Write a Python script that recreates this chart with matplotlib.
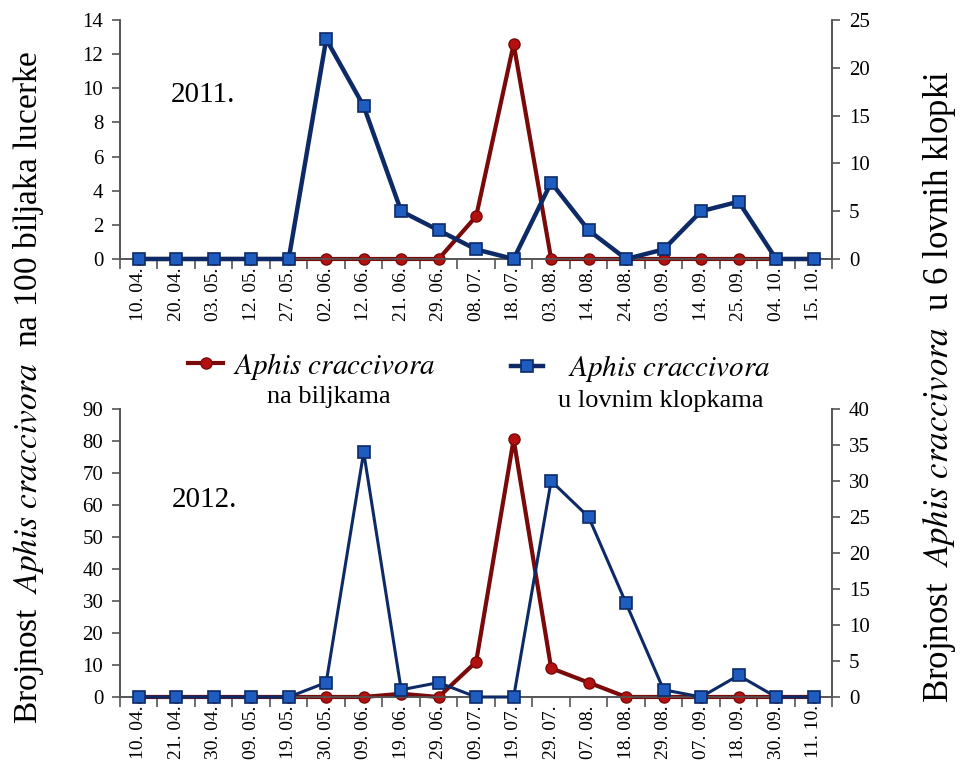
import matplotlib
matplotlib.use("Agg")
import matplotlib.pyplot as plt
from matplotlib.ticker import MultipleLocator, FixedLocator, NullFormatter

plt.rcParams['font.family'] = ['Liberation Serif', 'DejaVu Serif']
plt.rcParams['mathtext.fontset'] = 'stix'

# 2011 sampling dates and counts
dates_2011 = ['10. 04.', '20. 04.', '03. 05.', '12. 05.', '27. 05.', '02. 06.', '12. 06.',
              '21. 06.', '29. 06.', '08. 07.', '18. 07.', '03. 08.', '14. 08.', '24. 08.',
              '03. 09.', '14. 09.', '25. 09.', '04. 10.', '15. 10.']
plants_2011 = [0, 0, 0, 0, 0, 0, 0, 0, 0, 2.5, 12.6, 0, 0, 0, 0, 0, 0, 0, 0]
traps_2011 = [0, 0, 0, 0, 0, 23, 16, 5, 3, 1, 0, 8, 3, 0, 1, 5, 6, 0, 0]

# 2012 sampling dates and counts
dates_2012 = ['10. 04.', '21. 04.', '30. 04.', '09. 05.', '19. 05.', '30. 05.', '09. 06.',
              '19. 06.', '29. 06.', '09. 07.', '19. 07.', '29. 07.', '07. 08.', '18. 08.',
              '29. 08.', '07. 09.', '18. 09.', '30. 09.', '11. 10.']
plants_2012 = [0, 0, 0, 0, 0, 0, 0, 1, 0, 11, 80.5, 9, 4.5, 0, 0, 0, 0, 0, 0]
traps_2012 = [0, 0, 0, 0, 0, 2, 34, 1, 2, 0, 0, 30, 25, 13, 1, 0, 3, 0, 0]

RED_LINE = '#7a0a0a'
RED_MARK = '#b31010'
BLUE_LINE = '#0d2a66'
BLUE_MARK = '#1f5cc0'
AX_COL = '#555555'

fig = plt.figure(figsize=(9.6, 7.74), dpi=100)


def panel(rect, dates, plants, traps, lmax, lstep, rmax, rstep, year, year_xy, blue_lw):
    ax = fig.add_axes(rect)
    ax2 = ax.twinx()
    x = list(range(len(dates)))
    l1, = ax.plot(x, plants, color=RED_LINE, lw=3, marker='o', ms=8,
                  mfc=RED_MARK, mec=RED_LINE, mew=1, clip_on=False, zorder=3)
    l2, = ax2.plot(x, traps, color=BLUE_LINE, lw=blue_lw, marker='s', ms=9,
                   mfc=BLUE_MARK, mec=BLUE_LINE, mew=1.2, clip_on=False, zorder=3)
    ax.set_xlim(-0.5, len(dates) - 0.5)
    ax.set_ylim(0, lmax)
    ax2.set_ylim(0, rmax)
    ax.yaxis.set_major_locator(MultipleLocator(lstep))
    ax2.yaxis.set_major_locator(MultipleLocator(rstep))
    # ticks between categories, labels at categories
    ax.xaxis.set_major_locator(FixedLocator([i - 0.5 for i in range(len(dates) + 1)]))
    ax.xaxis.set_major_formatter(NullFormatter())
    ax.xaxis.set_minor_locator(FixedLocator(x))
    ax.set_xticklabels(dates, minor=True, rotation=90, fontsize=14)
    ax.tick_params(axis='x', which='minor', length=0, pad=6)
    ax.tick_params(axis='x', which='major', length=7, color=AX_COL, width=1.2)
    ax.tick_params(axis='y', length=6, color=AX_COL, width=1.2, labelsize=15, pad=6)
    ax2.tick_params(axis='y', length=6, color=AX_COL, width=1.2, labelsize=15, pad=6)
    for a in (ax, ax2):
        a.spines['top'].set_visible(False)
        for s in ('left', 'right', 'bottom'):
            a.spines[s].set_color(AX_COL)
            a.spines[s].set_linewidth(1.2)
    ax.text(year_xy[0], year_xy[1], year, fontsize=21, ha='center', va='center')
    return l1, l2


h1, h2 = panel([0.125, 0.6654, 0.742, 0.3086], dates_2011, plants_2011, traps_2011,
               14, 2, 25, 5, '2011.', (1.7, 9.6), 3.2)
panel([0.125, 0.0995, 0.742, 0.3721], dates_2012, plants_2012, traps_2012,
      90, 10, 40, 5, '2012.', (1.75, 61.5), 2.2)

species = r'$\mathit{Aphis\ craccivora}$'
fig.legend([h1], [species], loc='center left', bbox_to_anchor=(0.196, 0.527),
           frameon=False, fontsize=21, handlelength=1.2, handletextpad=0.35, borderpad=0,
           borderaxespad=0)
fig.legend([h2], [species], loc='center left', bbox_to_anchor=(0.532, 0.524),
           frameon=False, fontsize=21, handlelength=1.1, handletextpad=0.85, borderpad=0,
           borderaxespad=0)
fig.text(0.342, 0.487, 'na biljkama', fontsize=19, ha='center', va='center')
fig.text(0.688, 0.482, 'u lovnim klopkama', fontsize=19, ha='center', va='center')

fig.text(0.030, 0.5, r'Brojnost  $\mathit{Aphis\ craccivora}$  na 100 biljaka lucerke',
         rotation=90, fontsize=24, ha='center', va='center')
fig.text(0.978, 0.5, r'Brojnost  $\mathit{Aphis\ craccivora}$  u 6 lovnih klopki',
         rotation=90, fontsize=25, ha='center', va='center')

fig.savefig('out.png', dpi=100)
